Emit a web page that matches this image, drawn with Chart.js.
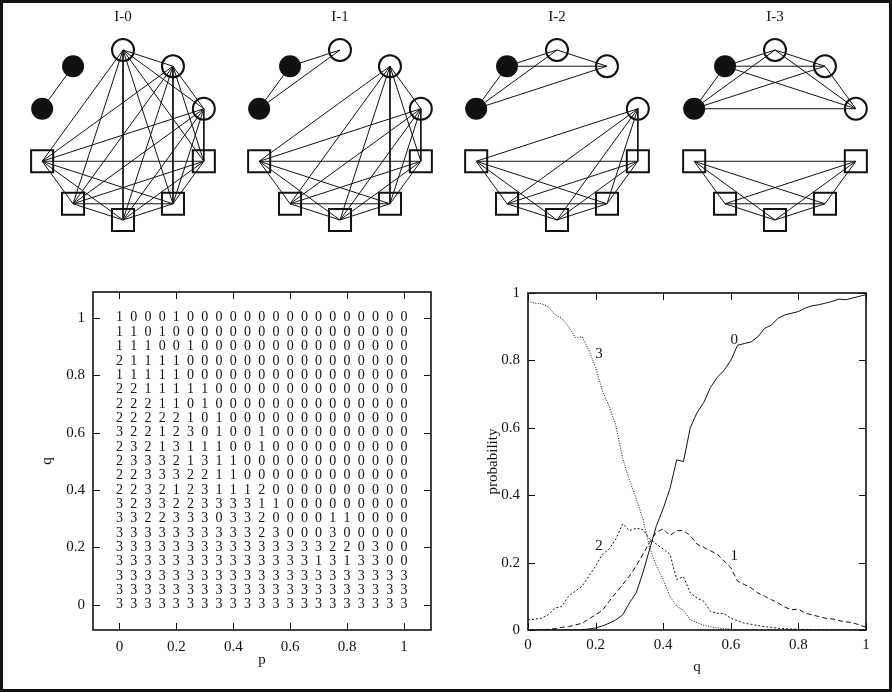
<!DOCTYPE html>
<html>
<head>
<meta charset="utf-8">
<script src="https://cdn.jsdelivr.net/npm/chart.js@4.4.1/dist/chart.umd.min.js"></script>
<style>
  html, body { margin: 0; padding: 0; background: #fff; }
  #page { position: relative; width: 892px; height: 692px; overflow: hidden; background: #fff; }
  canvas { position: absolute; }
  #frame { position: absolute; left: 0; top: 0; width: 892px; height: 692px; box-sizing: border-box; border: 3px solid #111; pointer-events: none; }
</style>
</head>
<body>
<div id="page">
  <canvas id="g0" width="216" height="245" style="left:15px;top:0"></canvas>
  <canvas id="g1" width="216" height="245" style="left:232px;top:0"></canvas>
  <canvas id="g2" width="216" height="245" style="left:449px;top:0"></canvas>
  <canvas id="g3" width="216" height="245" style="left:667px;top:0"></canvas>
  <canvas id="grid" width="450" height="430" style="left:0;top:260px"></canvas>
  <canvas id="prob" width="442" height="430" style="left:450px;top:260px"></canvas>
  <div id="frame"></div>
</div>
<script>
// --- network panels ---
const PANELS = ['I-0', 'I-1', 'I-2', 'I-3']
const NODE_KIND = ['open', 'open', 'open', 'square', 'square', 'square', 'square', 'square', 'filled', 'filled']
const CLIQUES = [
  [[0, 1, 2, 3, 4, 5, 6, 7], [8, 9]],
  [[0, 8, 9], [1, 2, 3, 4, 5, 6, 7]],
  [[0, 1, 8, 9], [2, 3, 4, 5, 6, 7]],
  [[0, 1, 2, 8, 9], [3, 4, 5, 6, 7]]
]

// --- state map: rows from q = 1 (top) down to q = 0 ---
const P_VALUES = [0, 0.05, 0.1, 0.15, 0.2, 0.25, 0.3, 0.35, 0.4, 0.45, 0.5, 0.55, 0.6, 0.65, 0.7, 0.75, 0.8, 0.85, 0.9, 0.95, 1]
const Q_VALUES = [1, 0.95, 0.9, 0.85, 0.8, 0.75, 0.7, 0.65, 0.6, 0.55, 0.5, 0.45, 0.4, 0.35, 0.3, 0.25, 0.2, 0.15, 0.1, 0.05, 0]
const STATES = [
  '100010000000000000000',
  '110100000000000000000',
  '111001000000000000000',
  '211110000000000000000',
  '111110000000000000000',
  '221111100000000000000',
  '222110100000000000000',
  '222221010000000000000',
  '322123010010000000000',
  '232131110010000000000',
  '233321311000000000000',
  '223332211000000000000',
  '223212311120000000000',
  '323322333311000000000',
  '332233303320000110000',
  '333333333323000300000',
  '333333333333333220300',
  '333333333333331313300',
  '333333333333333333333',
  '333333333333333333333',
  '333333333333333333333'
]
const P_TICKS = [0, 0.2, 0.4, 0.6, 0.8, 1]
const Q_TICKS = [0, 0.2, 0.4, 0.6, 0.8, 1]

// --- probability curves ---
const Q = [0, 0.02, 0.04, 0.06, 0.08, 0.1, 0.12, 0.14, 0.16, 0.18, 0.2, 0.22, 0.24, 0.26, 0.28, 0.3, 0.32, 0.34, 0.36, 0.38, 0.4,
  0.42, 0.44, 0.46, 0.48, 0.5, 0.52, 0.54, 0.56, 0.58, 0.6, 0.62, 0.64, 0.66, 0.68, 0.7, 0.72, 0.74, 0.76, 0.78, 0.8,
  0.82, 0.84, 0.86, 0.88, 0.9, 0.92, 0.94, 0.96, 0.98, 1]
const PROB_0 = [0, 0, 0, 0, 0, 0, 0, 0, 0.001, 0.003, 0.006, 0.012, 0.02, 0.03, 0.045, 0.08, 0.11, 0.17, 0.24, 0.31, 0.36,
  0.42, 0.505, 0.5, 0.6, 0.645, 0.675, 0.72, 0.75, 0.77, 0.8, 0.845, 0.85, 0.855, 0.87, 0.895, 0.905, 0.925, 0.935, 0.94, 0.945,
  0.955, 0.962, 0.965, 0.97, 0.975, 0.982, 0.98, 0.985, 0.99, 0.995]
const PROB_1 = [0, 0, 0, 0.002, 0.004, 0.008, 0.01, 0.015, 0.02, 0.033, 0.045, 0.058, 0.085, 0.11, 0.135, 0.16, 0.19, 0.225, 0.26, 0.29, 0.3,
  0.28, 0.295, 0.295, 0.28, 0.255, 0.245, 0.235, 0.225, 0.205, 0.185, 0.145, 0.135, 0.125, 0.11, 0.1, 0.09, 0.08, 0.068, 0.06, 0.062,
  0.05, 0.045, 0.04, 0.035, 0.033, 0.028, 0.024, 0.022, 0.015, 0.008]
const PROB_2 = [0.03, 0.032, 0.035, 0.045, 0.065, 0.07, 0.1, 0.115, 0.13, 0.16, 0.19, 0.225, 0.24, 0.27, 0.315, 0.295, 0.302, 0.298, 0.27, 0.255, 0.24,
  0.225, 0.15, 0.158, 0.11, 0.095, 0.085, 0.055, 0.05, 0.048, 0.035, 0.028, 0.02, 0.017, 0.013, 0.01, 0.008, 0.005, 0.004, 0.003, 0.002,
  0.002, 0.001, 0.001, 0, 0, 0, 0, 0, 0, 0]
const PROB_3 = [0.975, 0.97, 0.968, 0.96, 0.935, 0.925, 0.9, 0.868, 0.87, 0.83, 0.78, 0.71, 0.665, 0.605, 0.51, 0.445, 0.39, 0.33, 0.245, 0.19, 0.15,
  0.1, 0.07, 0.058, 0.03, 0.022, 0.014, 0.01, 0.006, 0.004, 0.002, 0.001, 0.001, 0, 0, 0, 0, 0, 0, 0, 0,
  0, 0, 0, 0, 0, 0, 0, 0, 0, 0]
const PROB_TICKS = [0, 0.2, 0.4, 0.6, 0.8, 1]
const CURVE_TAGS = ['0', '1', '2', '3']
const TAG_AT = [[0.61, 0.86], [0.61, 0.22], [0.21, 0.25], [0.21, 0.82]]

const SERIF = '"Liberation Serif", "DejaVu Serif", serif'
const INK = '#111'

// gnuplot-like box with ticks pointing inwards
const boxPlugin = {
  id: 'box',
  afterDraw(chart, args, opts) {
    if (!opts.on) return
    const { ctx, chartArea: a, scales } = chart
    const len = 7
    ctx.save()
    ctx.strokeStyle = INK
    ctx.lineWidth = 1
    scales.x.ticks.forEach(t => {
      const px = Math.round(scales.x.getPixelForValue(t.value)) + 0.5
      ctx.beginPath()
      ctx.moveTo(px, a.bottom); ctx.lineTo(px, a.bottom - len)
      ctx.moveTo(px, a.top); ctx.lineTo(px, a.top + len)
      ctx.stroke()
    })
    scales.y.ticks.forEach(t => {
      const py = Math.round(scales.y.getPixelForValue(t.value)) + 0.5
      ctx.beginPath()
      ctx.moveTo(a.left, py); ctx.lineTo(a.left + len, py)
      ctx.moveTo(a.right, py); ctx.lineTo(a.right - len, py)
      ctx.stroke()
    })
    ctx.lineWidth = 1.6
    ctx.strokeRect(a.left, a.top, a.right - a.left, a.bottom - a.top)
    ctx.restore()
  }
}

// text drawn at data coordinates
const textPlugin = {
  id: 'texts',
  afterDatasetsDraw(chart, args, opts) {
    if (!opts.items) return
    const { ctx, scales } = chart
    ctx.save()
    ctx.fillStyle = INK
    ctx.font = opts.font
    ctx.textAlign = 'center'
    ctx.textBaseline = 'middle'
    opts.items.forEach(it => {
      ctx.fillText(it.t, scales.x.getPixelForValue(it.x), scales.y.getPixelForValue(it.y))
    })
    ctx.restore()
  }
}

Chart.register(boxPlugin, textPlugin)

function hiddenAxis(min, max) {
  return { type: 'linear', display: false, min: min, max: max }
}

function initPanel(k) {
  const unit = 85
  const nodes = NODE_KIND.map((kind, i) => {
    const a = (90 - 36 * i) * Math.PI / 180
    return { x: Math.cos(a), y: Math.sin(a), kind: kind }
  })
  const edges = []
  CLIQUES[k].forEach(group => {
    for (let i = 0; i < group.length; i++) {
      for (let j = i + 1; j < group.length; j++) {
        edges.push({
          data: [nodes[group[i]], nodes[group[j]]],
          showLine: true,
          borderColor: INK,
          borderWidth: 1,
          pointRadius: 0,
          order: 2
        })
      }
    }
  })
  const pick = kind => nodes.filter(n => n.kind === kind)
  const datasets = [
    { data: pick('open'), pointStyle: 'circle', pointRadius: 11, pointBorderWidth: 2, pointBorderColor: INK, pointBackgroundColor: 'rgba(0,0,0,0)', order: 0 },
    { data: pick('square'), pointStyle: 'rect', pointRadius: 15.6, pointBorderWidth: 2, pointBorderColor: INK, pointBackgroundColor: 'rgba(0,0,0,0)', order: 0 },
    { data: pick('filled'), pointStyle: 'circle', pointRadius: 11, pointBorderWidth: 0, pointBackgroundColor: INK, order: 0 }
  ].concat(edges)

  new Chart(document.getElementById('g' + k), {
    type: 'scatter',
    data: { datasets: datasets },
    options: {
      responsive: false,
      animation: false,
      devicePixelRatio: 1,
      events: [],
      layout: { padding: 0, autoPadding: false },
      scales: {
        x: hiddenAxis(-108 / unit, 108 / unit),
        y: hiddenAxis(-110 / unit, 135 / unit)
      },
      plugins: {
        legend: { display: false },
        tooltip: { enabled: false },
        texts: { font: '15px ' + SERIF, items: [{ t: PANELS[k], x: 0, y: 1.39 }] }
      }
    }
  })
}

function axisFont() {
  return { family: SERIF, size: 15 }
}

function initGrid() {
  const cells = []
  STATES.forEach((row, r) => {
    row.split('').forEach((s, c) => {
      cells.push({ x: P_VALUES[c], y: Q_VALUES[r], t: s })
    })
  })
  new Chart(document.getElementById('grid'), {
    type: 'scatter',
    data: { datasets: [{ data: cells, pointRadius: 0 }] },
    options: {
      responsive: false,
      animation: false,
      devicePixelRatio: 1,
      events: [],
      layout: { padding: { left: 38, top: 32, right: 19, bottom: 21 }, autoPadding: false },
      scales: {
        x: {
          type: 'linear', min: -0.093, max: 1.095,
          afterBuildTicks: s => { s.ticks = P_TICKS.map(v => ({ value: v })) },
          afterFit: s => { s.height = 39 },
          grid: { display: false, drawTicks: false },
          border: { display: false },
          ticks: { padding: 8, font: axisFont(), color: INK, maxRotation: 0, autoSkip: false, callback: v => String(v) },
          title: { display: true, text: 'p', font: axisFont(), color: INK, padding: 0 }
        },
        y: {
          type: 'linear', min: -0.088, max: 1.09,
          afterBuildTicks: s => { s.ticks = Q_TICKS.map(v => ({ value: v })) },
          afterFit: s => { s.width = 55 },
          grid: { display: false, drawTicks: false },
          border: { display: false },
          ticks: { padding: 8, font: axisFont(), color: INK, autoSkip: false, callback: v => String(v) },
          title: { display: true, text: 'q', font: axisFont(), color: INK, padding: 0 }
        }
      },
      plugins: {
        legend: { display: false },
        tooltip: { enabled: false },
        box: { on: true },
        texts: { font: '14px ' + SERIF, items: cells }
      }
    }
  })
}

function initProb() {
  const series = [PROB_0, PROB_1, PROB_2, PROB_3]
  const dashes = [[], [5, 3], [2, 2], [1, 1.5]]
  const datasets = series.map((vals, i) => ({
    label: CURVE_TAGS[i],
    data: Q.map((q, j) => ({ x: q, y: vals[j] })),
    showLine: true,
    borderColor: INK,
    borderWidth: 1,
    borderDash: dashes[i],
    pointRadius: 0,
    tension: 0
  }))
  new Chart(document.getElementById('prob'), {
    type: 'scatter',
    data: { datasets: datasets },
    options: {
      responsive: false,
      animation: false,
      devicePixelRatio: 1,
      events: [],
      layout: { padding: { left: 34, top: 33, right: 26, bottom: 14 }, autoPadding: false },
      scales: {
        x: {
          type: 'linear', min: 0, max: 1,
          afterBuildTicks: s => { s.ticks = PROB_TICKS.map(v => ({ value: v })) },
          afterFit: s => { s.height = 46 },
          grid: { display: false, drawTicks: false },
          border: { display: false },
          ticks: { padding: 6, font: axisFont(), color: INK, maxRotation: 0, autoSkip: false, callback: v => String(v) },
          title: { display: true, text: 'q', font: axisFont(), color: INK, padding: 0 }
        },
        y: {
          type: 'linear', min: 0, max: 1,
          afterBuildTicks: s => { s.ticks = PROB_TICKS.map(v => ({ value: v })) },
          afterFit: s => { s.width = 44 },
          grid: { display: false, drawTicks: false },
          border: { display: false },
          ticks: { padding: 8, font: axisFont(), color: INK, autoSkip: false, callback: v => String(v) },
          title: { display: true, text: 'probability', font: axisFont(), color: INK, padding: 0 }
        }
      },
      plugins: {
        legend: { display: false },
        tooltip: { enabled: false },
        box: { on: true },
        texts: { font: '15px ' + SERIF, items: TAG_AT.map((p, i) => ({ t: CURVE_TAGS[i], x: p[0], y: p[1] })) }
      }
    }
  })
}

document.addEventListener('DOMContentLoaded', () => {
  PANELS.forEach((name, k) => initPanel(k))
  initGrid()
  initProb()
})
</script>
</body>
</html>
